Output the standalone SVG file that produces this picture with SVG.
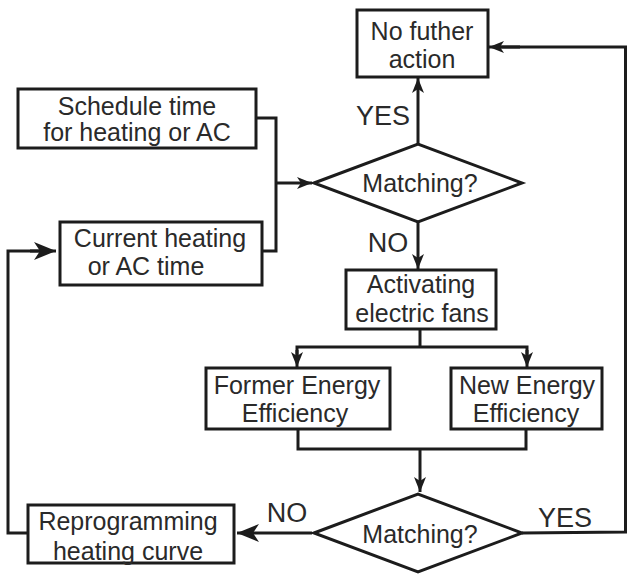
<svg xmlns="http://www.w3.org/2000/svg" width="628" height="576" viewBox="0 0 628 576">
  <defs>
    <!-- dart-shaped arrowheads, small and large -->
    <marker id="arrow" viewBox="0 0 15 12" refX="15" refY="6" markerWidth="15" markerHeight="12" markerUnits="userSpaceOnUse" orient="auto">
      <path d="M0,0 L15,6 L0,12 L4,6 Z" fill="#1c1c1c"/>
    </marker>
    <marker id="arrow-big" viewBox="0 0 22 18" refX="22" refY="9" markerWidth="22" markerHeight="18" markerUnits="userSpaceOnUse" orient="auto">
      <path d="M0,0 L22,9 L0,18 L6,9 Z" fill="#1c1c1c"/>
    </marker>
  </defs>
  <style>
    .box { fill: #ffffff; stroke: #1c1c1c; stroke-width: 3; }
    .line { fill: none; stroke: #1c1c1c; stroke-width: 3; }
    .t { font-family: "Liberation Sans", Arial, sans-serif; font-size: 25px; fill: #2a2a2a; text-anchor: middle; }
    .lbl { font-family: "Liberation Sans", Arial, sans-serif; font-size: 27px; fill: #2a2a2a; text-anchor: middle; }
  </style>
  <rect width="628" height="576" fill="#ffffff"/>

  <!-- connectors -->
  <g id="connectors">
    <!-- schedule and current time feed the first decision -->
    <polyline class="line" points="256,118 276,118 276,251 262,251"/>
    <line class="line" x1="276" y1="183" x2="312" y2="183" marker-end="url(#arrow)"/>
    <!-- first decision: YES up, NO down -->
    <line class="line" x1="418" y1="144" x2="418" y2="78" marker-end="url(#arrow)"/>
    <line class="line" x1="418" y1="222" x2="418" y2="269" marker-end="url(#arrow)"/>
    <!-- fan activation splits into the two efficiency boxes -->
    <polyline class="line" points="420,329 420,347"/>
    <polyline class="line" points="297,360 297,347 527,347 527,360"/>
    <line class="line" x1="297" y1="350" x2="297" y2="367" marker-end="url(#arrow)"/>
    <line class="line" x1="527" y1="350" x2="527" y2="367" marker-end="url(#arrow)"/>
    <!-- efficiency boxes join into the second decision -->
    <polyline class="line" points="298,429 298,449 526,449 526,429"/>
    <line class="line" x1="420" y1="449" x2="420" y2="492" marker-end="url(#arrow)"/>
    <!-- second decision: NO left, YES loops round to the top -->
    <line class="line" x1="312" y1="533" x2="237" y2="533" marker-end="url(#arrow-big)"/>
    <polyline class="line" points="522,533 625.5,532 625.5,47 500,47"/>
    <line class="line" x1="520" y1="47" x2="489" y2="47" marker-end="url(#arrow)"/>
    <!-- reprogramming loops back to the current time -->
    <polyline class="line" points="28,533 8,533 8,251 40,251"/>
    <line class="line" x1="30" y1="251" x2="56" y2="251" marker-end="url(#arrow-big)"/>
  </g>

  <g id="no-further-action">
    <rect class="box" x="357" y="10" width="131" height="67"/>
    <text class="t" x="422" y="40">No futher</text>
    <text class="t" x="422" y="68">action</text>
  </g>

  <g id="schedule-time">
    <rect class="box" x="18" y="89" width="238" height="59"/>
    <text class="t" x="137" y="115">Schedule time</text>
    <text class="t" x="137" y="141">for heating or AC</text>
  </g>

  <g id="decision-top">
    <polygon class="box" points="314,183 418,144 522,183 418,222"/>
    <text class="t" x="420" y="192">Matching?</text>
  </g>
  <text class="lbl" x="383" y="125">YES</text>
  <text class="lbl" x="388" y="252">NO</text>

  <g id="current-time">
    <rect class="box" x="60" y="222" width="202" height="63"/>
    <text class="t" x="160" y="247">Current heating</text>
    <text class="t" x="146" y="275">or AC time</text>
  </g>

  <g id="activating-fans">
    <rect class="box" x="346" y="270" width="150" height="59"/>
    <text class="t" x="421" y="293">Activating</text>
    <text class="t" x="422" y="322">electric fans</text>
  </g>

  <g id="former-efficiency">
    <rect class="box" x="206" y="368" width="184" height="61"/>
    <text class="t" x="297" y="394">Former Energy</text>
    <text class="t" x="295" y="422">Efficiency</text>
  </g>

  <g id="new-efficiency">
    <rect class="box" x="451" y="368" width="151" height="61"/>
    <text class="t" x="527" y="394">New Energy</text>
    <text class="t" x="526" y="422">Efficiency</text>
  </g>

  <g id="decision-bottom">
    <polygon class="box" points="314,533 418,494 522,533 418,572"/>
    <text class="t" x="420" y="543">Matching?</text>
  </g>
  <text class="lbl" x="287" y="522">NO</text>
  <text class="lbl" x="565" y="527">YES</text>

  <g id="reprogramming">
    <rect class="box" x="28" y="505" width="206" height="58"/>
    <text class="t" x="128" y="530">Reprogramming</text>
    <text class="t" x="128" y="560">heating curve</text>
  </g>
</svg>
